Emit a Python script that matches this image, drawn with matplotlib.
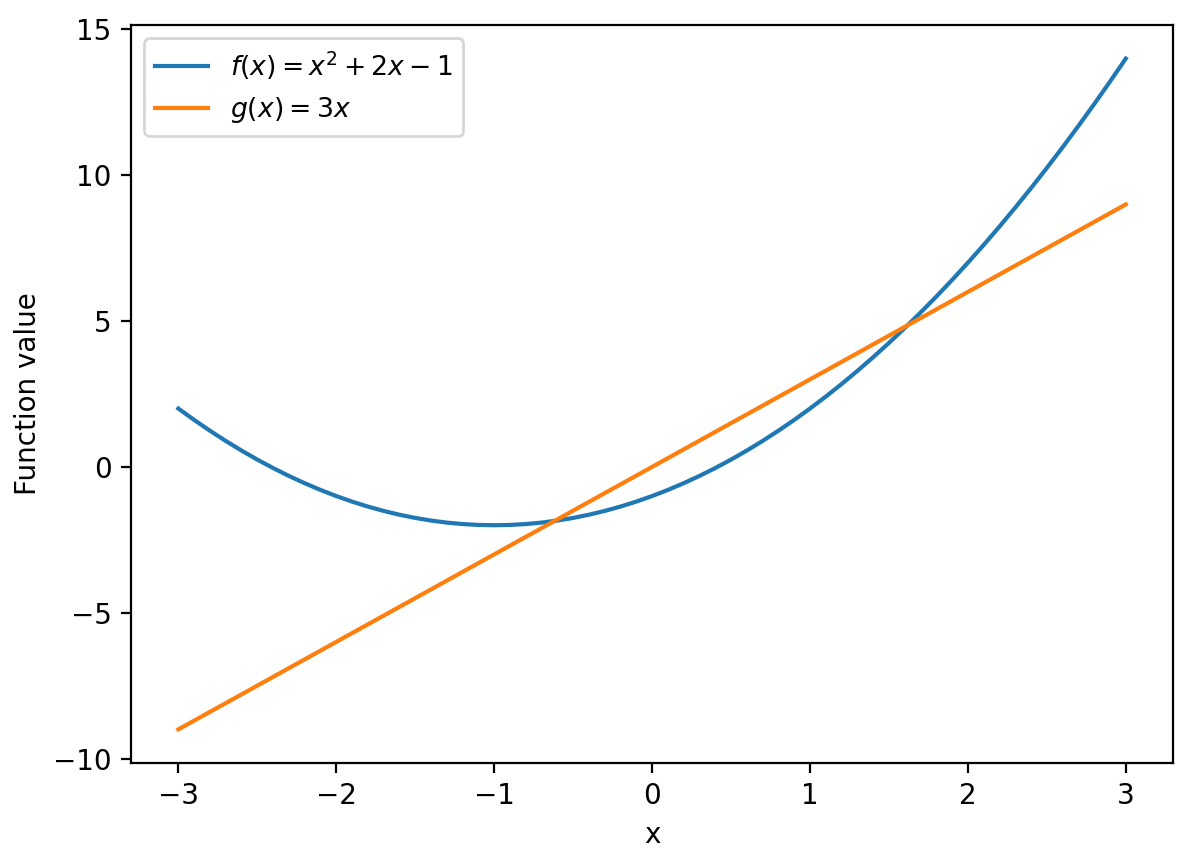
import matplotlib
matplotlib.use("Agg")
import matplotlib.pyplot as plt

# f(x) values at x steps of 0.1
x_vals = [-3.0, -2.9, -2.8, -2.7, -2.6, -2.5, -2.4, -2.3, -2.2, -2.1,
          -2.0, -1.9, -1.8, -1.7, -1.6, -1.5, -1.4, -1.3, -1.2, -1.1,
          -1.0, -0.9, -0.8, -0.7, -0.6, -0.5, -0.4, -0.3, -0.2, -0.1,
          0.0, 0.1, 0.2, 0.3, 0.4, 0.5, 0.6, 0.7, 0.8, 0.9,
          1.0, 1.1, 1.2, 1.3, 1.4, 1.5, 1.6, 1.7, 1.8, 1.9,
          2.0, 2.1, 2.2, 2.3, 2.4, 2.5, 2.6, 2.7, 2.8, 2.9, 3.0]
f_vals = [2.0, 1.61, 1.24, 0.89, 0.56, 0.25, -0.04, -0.31, -0.56, -0.79,
          -1.0, -1.19, -1.36, -1.51, -1.64, -1.75, -1.84, -1.91, -1.96, -1.99,
          -2.0, -1.99, -1.96, -1.91, -1.84, -1.75, -1.64, -1.51, -1.36, -1.19,
          -1.0, -0.79, -0.56, -0.31, -0.04, 0.25, 0.56, 0.89, 1.24, 1.61,
          2.0, 2.41, 2.84, 3.29, 3.76, 4.25, 4.76, 5.29, 5.84, 6.41,
          7.0, 7.61, 8.24, 8.89, 9.56, 10.25, 10.96, 11.69, 12.44, 13.21, 14.0]

# g(x) is a straight line
g_x = [-3.0, -2.0, -1.0, 0.0, 1.0, 2.0, 3.0]
g_vals = [-9.0, -6.0, -3.0, 0.0, 3.0, 6.0, 9.0]

fig = plt.figure(figsize=(1191 / 200, 864 / 200), dpi=200)
ax = fig.add_axes([0.110, 0.117, 0.875, 0.854])

ax.plot(x_vals, f_vals, label=r'$f(x) = x^2 + 2x - 1$')
ax.plot(g_x, g_vals, label=r'$g(x) = 3x$')
ax.set_xlabel('x')
ax.set_ylabel('Function value')
ax.legend(loc='upper left', fontsize=9.6)

fig.savefig('out.png', dpi=200)
